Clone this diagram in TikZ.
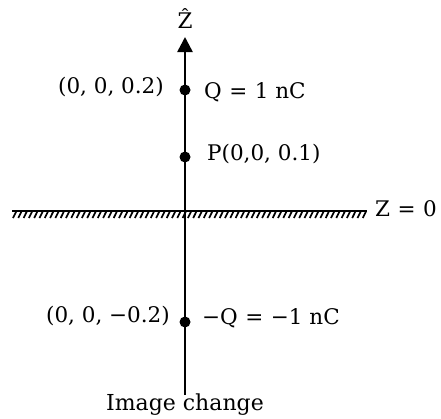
\documentclass[tikz,border=0pt]{standalone}
\usepackage{fontspec}
\setmainfont{DejaVu Serif}
\usetikzlibrary{arrows.meta}
\newcommand{\eqsp}{\hspace{0.35em}=\hspace{0.35em}}
\begin{document}
\begin{tikzpicture}[x=1pt,y=-1pt,
  lbl/.style={inner sep=0pt,font=\fontsize{21.5}{26}\selectfont},
  chargedot/.style={circle,fill=black,inner sep=0pt,minimum size=11pt},
  axisline/.style={line width=2.5pt,-{Triangle[length=15pt,width=15pt]}},
  hatch/.style={line width=1.7pt}]
\useasboundingbox (0,0) rectangle (441,418);
% axis
\coordinate (bot) at (185,395);
\coordinate (top) at (185,37);
\draw[axisline] (bot) -- (top);
\node[lbl] (zhat) at (185,19) {Ẑ};
% plane
\coordinate (pl) at (12,211);
\coordinate (pr) at (367,211);
\draw[line width=2pt] (pl) -- (pr);
\foreach \x in {13,18.3,...,364} {
  \draw[hatch] (\x,218) -- (\x+3.2,211.5);
}
\node[lbl,anchor=west] (zeq) at (375,209) {Z\eqsp0};
% charges
\node[chargedot] (q) at (185,90) {};
\node[chargedot] (p) at (185,157) {};
\node[chargedot] (mq) at (185,322) {};
\node[lbl,anchor=east] (qpos) at (164,87) {(0, 0, 0.2)};
\node[lbl,anchor=west] (qlab) at (204,92) {Q\eqsp1 nC};
\node[lbl,anchor=west] (plab) at (207,154) {P(0,0, 0.1)};
\node[lbl,anchor=east] (mqpos) at (170,316) {(0, 0, −0.2)};
\node[lbl,anchor=west] (mqlab) at (202,318) {−Q\eqsp−1 nC};
\node[inner sep=0pt,anchor=base,font=\fontsize{22}{26}\selectfont] (img) at (185,410) {Image change};
\end{tikzpicture}
\end{document}
